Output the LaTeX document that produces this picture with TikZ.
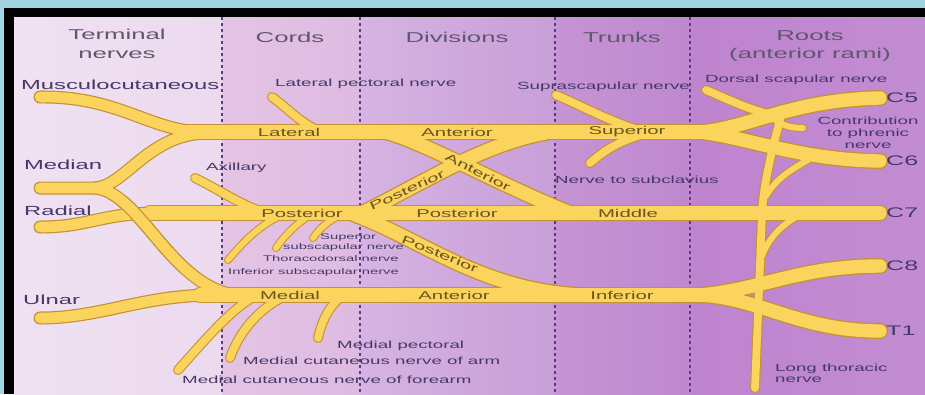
\documentclass[tikz,border=0pt]{standalone}
\usepackage{fontspec}
\setmainfont[FakeStretch=1.8]{Liberation Sans}
\definecolor{outerc}{RGB}{160,212,224}
\definecolor{c1a}{RGB}{240,226,242}
\definecolor{c1b}{RGB}{236,218,238}
\definecolor{c2a}{RGB}{228,196,228}
\definecolor{c2b}{RGB}{222,186,226}
\definecolor{c3a}{RGB}{214,180,226}
\definecolor{c3b}{RGB}{200,158,216}
\definecolor{c4a}{RGB}{198,148,212}
\definecolor{c4b}{RGB}{190,136,206}
\definecolor{c5a}{RGB}{190,132,206}
\definecolor{c5b}{RGB}{194,140,210}
\definecolor{sepc}{RGB}{96,56,140}
\definecolor{nfill}{RGB}{250,212,92}
\definecolor{nedge}{RGB}{196,146,52}
\definecolor{hdrc}{RGB}{96,86,112}
\definecolor{lblc}{RGB}{70,56,104}
\definecolor{onc}{RGB}{108,84,30}
\newcommand{\nervepaths}{%
 % cords / divisions / trunks / roots
 \path[nA] (lat) -- (700,132);
 \path[nA] (700,132) .. controls (750,128) and (790,100) .. (c5);
 \path[nA] (700,132) .. controls (750,138) and (800,160) .. (c6);
 \path[nA] (post) -- (c7);
 \path[nA] (med) -- (700,295);
 \path[nA] (700,295) .. controls (760,290) and (800,266) .. (c8);
 \path[nA] (700,295) .. controls (760,298) and (800,331) .. (t1);
 \path[nA] (358,215) .. controls (420,185) and (480,145) .. (545,133);
 \path[nA] (385,132) .. controls (420,140) and (500,185) .. (570,213);
 \path[nA] (350,213) .. controls (420,238) and (480,290) .. (580,295);
 % terminal nerves
 \path[nB] (mc) .. controls (120,96) and (150,132) .. (205,132);
 \path[nB] (mdn) -- (95,188) .. controls (125,186) and (148,135) .. (205,133);
 \path[nB] (95,188) .. controls (140,192) and (170,285) .. (235,295);
 \path[nB] (rad) .. controls (90,227) and (100,213) .. (160,213);
 \path[nB] (uln) .. controls (100,318) and (140,296) .. (210,295);
 % branches
 \path[nC] (ax) .. controls (220,190) and (245,208) .. (268,213);
 \path[nC] (lp) .. controls (290,110) and (305,128) .. (325,132);
 \path[nC] (ss) .. controls (580,105) and (610,122) .. (645,132);
 \path[nC] (sc) .. controls (605,150) and (620,140) .. (648,133);
 \path[nC] (ds) .. controls (725,98) and (745,108) .. (768,114);
 \path[nC] (mcf) .. controls (205,340) and (230,310) .. (255,296);
 \path[nC] (mca) .. controls (240,330) and (260,308) .. (285,296);
 \path[nC] (mp) .. controls (322,320) and (330,305) .. (342,296);
 \path[nC] (782,112) .. controls (772,150) and (763,185) .. (762,215) -- (lt);
 \path[nD] (808,160) .. controls (790,170) and (775,180) .. (766,196);
 \path[nD] (800,215) .. controls (780,225) and (768,240) .. (762,256);
 \path[nD] (770,116) .. controls (780,125) and (790,128) .. (ph);
 \path[nD] (sb1) .. controls (245,240) and (260,225) .. (282,215);
 \path[nD] (sb2) .. controls (285,235) and (295,225) .. (310,215);
 \path[nD] (sb3) .. controls (320,228) and (327,222) .. (340,215);
}
\begin{document}
\begin{tikzpicture}[x=1pt,y=-1pt,
  eA/.style={draw=nedge,line width=16pt,line cap=round},
  fA/.style={draw=nfill,line width=13.4pt,line cap=round},
  eB/.style={draw=nedge,line width=13pt,line cap=round},
  fB/.style={draw=nfill,line width=10.6pt,line cap=round},
  eC/.style={draw=nedge,line width=10pt,line cap=round},
  fC/.style={draw=nfill,line width=7.8pt,line cap=round},
  eD/.style={draw=nedge,line width=8pt,line cap=round},
  fD/.style={draw=nfill,line width=6pt,line cap=round},
  hdr/.style={font=\fontsize{14.3}{18.5}\selectfont, text=hdrc, inner sep=0pt, align=center},
  tnl/.style={font=\fontsize{13.2}{15}\selectfont, text=lblc, inner sep=0pt, anchor=west},
  brl/.style={font=\fontsize{10.4}{12}\selectfont, text=lblc, inner sep=0pt, anchor=west},
  sml/.style={font=\fontsize{8.2}{10}\selectfont, text=lblc, inner sep=0pt, anchor=west},
  onl/.style={font=\fontsize{11.3}{13}\selectfont, text=onc, inner sep=0pt},
  rtl/.style={font=\fontsize{13.9}{16}\selectfont, text=lblc, inner sep=0pt, anchor=west},
  sep/.style={draw=sepc, line width=1.4pt, dash pattern=on 3pt off 3pt}]
\useasboundingbox (0,0) rectangle (925,394);
\fill[outerc] (0,0) rectangle (925,394);
\fill[black] (4,8) rectangle (925,394);
\shade[left color=c1a, right color=c1b] (14,17) rectangle (222,394);
\shade[left color=c2a, right color=c2b] (222,17) rectangle (360,394);
\shade[left color=c3a, right color=c3b] (360,17) rectangle (555,394);
\shade[left color=c4a, right color=c4b] (555,17) rectangle (690,394);
\shade[left color=c5a, right color=c5b] (690,17) rectangle (925,394);
\draw[sep] (222,17) -- (222,394);
\draw[sep] (360,17) -- (360,394);
\draw[sep] (555,17) -- (555,394);
\draw[sep] (690,17) -- (690,394);
% named points
\coordinate (lat) at (185,132);
\coordinate (post) at (150,213);
\coordinate (med) at (200,295);
\coordinate (c5) at (880,98);
\coordinate (c6) at (880,161);
\coordinate (c7) at (880,213);
\coordinate (c8) at (880,266);
\coordinate (t1) at (880,331);
\coordinate (mc) at (40,97);
\coordinate (mdn) at (40,188);
\coordinate (rad) at (40,227);
\coordinate (uln) at (40,318);
\coordinate (ax) at (195,178);
\coordinate (lp) at (272,97);
\coordinate (ss) at (556,95);
\coordinate (sc) at (590,163);
\coordinate (ds) at (706,90);
\coordinate (mcf) at (178,370);
\coordinate (mca) at (230,358);
\coordinate (mp) at (318,338);
\coordinate (lt) at (755,388);
\coordinate (ph) at (803,128);
\coordinate (sb1) at (228,260);
\coordinate (sb2) at (276,248);
\coordinate (sb3) at (313,238);
% nerves: outlines, then fills
\begin{scope}[nA/.style=eA, nB/.style=eB, nC/.style=eC, nD/.style=eD]
\nervepaths
\end{scope}
\begin{scope}[nA/.style=fA, nB/.style=fB, nC/.style=fC, nD/.style=fD]
\nervepaths
\end{scope}
% median branch passing over the radial nerve
\begin{scope}
\clip (108,197) rectangle (200,272);
\path[eB] (95,188) .. controls (140,192) and (170,285) .. (235,295);
\path[fB] (95,188) .. controls (140,192) and (170,285) .. (235,295);
\end{scope}
% headers
\node[hdr] (h1) at (117,44) {Terminal\\nerves};
\node[hdr] (h2) at (290,37) {Cords};
\node[hdr] (h3) at (457,37) {Divisions};
\node[hdr] (h4) at (622,37) {Trunks};
\node[hdr] (h5) at (810,46) {Roots\\(anterior rami)};
% terminal nerves
\node[tnl] (lmc) at (21,85) {Musculocutaneous};
\node[tnl] (lmd) at (24,165) {Median};
\node[tnl] (lrd) at (24,211) {Radial};
\node[tnl] (lul) at (23,300) {Ulnar};
% on-nerve labels
\node[onl] (o1) at (289,132) {Lateral};
\node[onl] (o2) at (457,132) {Anterior};
\node[onl] (o3) at (627,132) {Superior};
\node[onl] (o4) at (302,213) {Posterior};
\node[onl] (o5) at (457,213) {Posterior};
\node[onl] (o6) at (628,213) {Middle};
\node[onl] (o7) at (290,295) {Medial};
\node[onl] (o8) at (454,295) {Anterior};
\node[onl] (o9) at (622,295) {Inferior};
\node[onl, rotate=-27] (o10) at (478,172) {Anterior};
\node[onl, rotate=25] (o11) at (407,190) {Posterior};
\node[onl, rotate=-22] (o12) at (440,254) {Posterior};
% branch labels
\node[brl] (b1) at (206,168) {Axillary};
\node[brl] (b2) at (275,84) {Lateral pectoral nerve};
\node[brl] (b3) at (517,87) {Suprascapular nerve};
\node[brl] (b4) at (705,80) {Dorsal scapular nerve};
\node[brl, anchor=center, align=center, font=\fontsize{10.4}{11.8}\selectfont] (b5) at (868,133) {Contribution\\to phrenic\\nerve};
\node[brl] (b6) at (555,180) {Nerve to subclavius};
\node[sml] (s1) at (320,237) {Superior};
\node[sml] (s2) at (283,247) {subscapular nerve};
\node[sml] (s3) at (263,259) {Thoracodorsal nerve};
\node[sml] (s4) at (228,272) {Inferior subscapular nerve};
\node[brl] (m1) at (337,346) {Medial pectoral};
\node[brl] (m2) at (243,361) {Medial cutaneous nerve of arm};
\node[brl] (m3) at (182,380) {Medial cutaneous nerve of forearm};
\node[brl, align=left, font=\fontsize{10.4}{11}\selectfont] (m4) at (775,373) {Long thoracic\\nerve};
% roots
\node[rtl] (r1) at (886,98) {C5};
\node[rtl] (r2) at (886,161) {C6};
\node[rtl] (r3) at (886,213) {C7};
\node[rtl] (r4) at (886,266) {C8};
\node[rtl] (r5) at (886,331) {T1};
\end{tikzpicture}
\end{document}
